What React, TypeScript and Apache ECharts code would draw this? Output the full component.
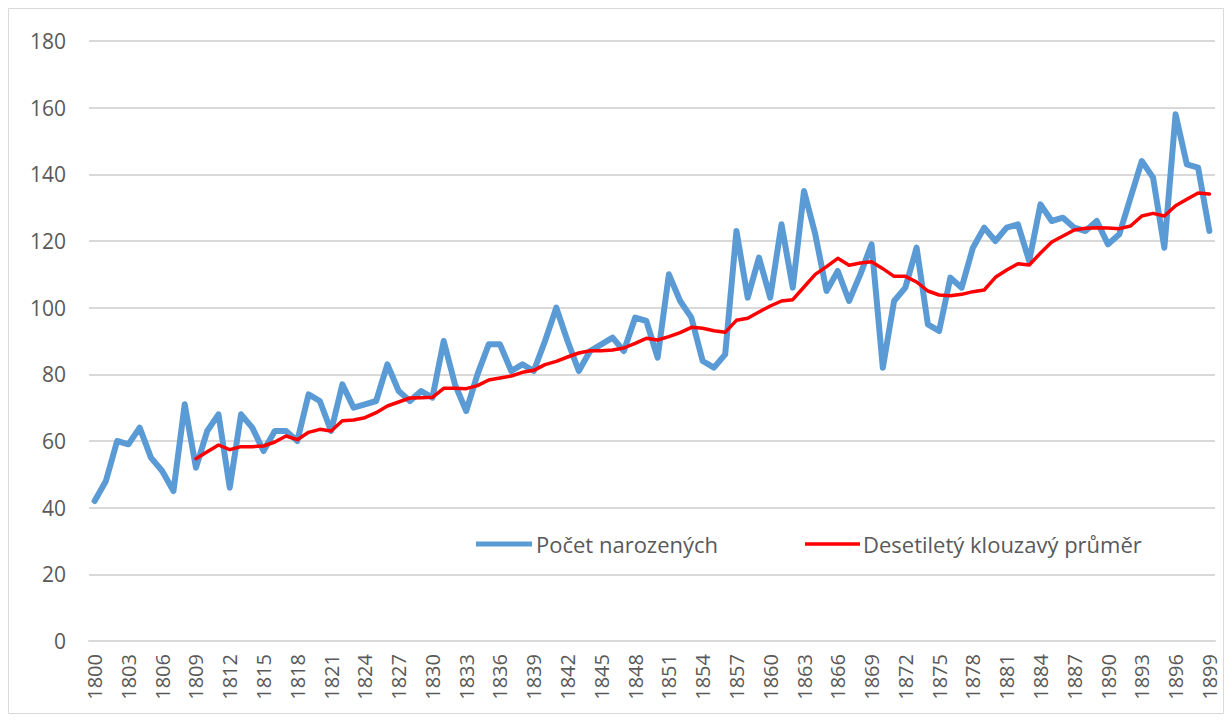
import React, { useEffect, useRef } from "react";
import * as echarts from "echarts";

const years: string[] = [];
for (let y = 1800; y <= 1899; y++) years.push(String(y));

const births: number[] = [
  42, 48, 60, 59, 64, 55, 51, 45, 71, 52,
  63, 68, 46, 68, 64, 57, 63, 63, 60, 74,
  72, 63, 77, 70, 71, 72, 83, 75, 72, 75,
  73, 90, 77, 69, 80, 89, 89, 81, 83, 81,
  90, 100, 90, 81, 87, 89, 91, 87, 97, 96,
  85, 110, 102, 97, 84, 82, 86, 123, 103, 115,
  103, 125, 106, 135, 122, 105, 111, 102, 110, 119,
  82, 102, 106, 118, 95, 93, 109, 106, 118, 124,
  120, 124, 125, 114, 131, 126, 127, 124, 123, 126,
  119, 122, 133, 144, 139, 118, 158, 143, 142, 123,
];

const movingAvg: (number | null)[] = [
  null, null, null, null, null, null, null, null, null, 54.7,
  56.8, 58.8, 57.4, 58.3, 58.3, 58.5, 59.7, 61.5, 60.4, 62.6,
  63.5, 63.0, 66.1, 66.3, 67.0, 68.5, 70.5, 71.7, 72.9, 73.0,
  73.1, 75.8, 75.8, 75.7, 76.6, 78.3, 78.9, 79.5, 80.6, 81.2,
  82.9, 83.9, 85.2, 86.4, 87.1, 87.1, 87.3, 87.9, 89.3, 90.8,
  90.3, 91.3, 92.5, 94.1, 93.8, 93.1, 92.6, 96.2, 96.8, 98.7,
  100.5, 102.0, 102.4, 106.2, 110.0, 112.3, 114.8, 112.7, 113.4, 113.8,
  111.7, 109.4, 109.4, 107.7, 105.0, 103.8, 103.6, 104.0, 104.8, 105.3,
  109.1, 111.3, 113.2, 112.8, 116.4, 119.7, 121.5, 123.3, 123.8, 124.0,
  123.9, 123.7, 124.5, 127.5, 128.3, 127.5, 130.6, 132.5, 134.4, 134.1,
];

const seriesNames = ["Počet narozených", "Desetiletý klouzavý průměr"];

const FONT = "Open Sans";
const TEXT_COLOR = "#595959";

export default function App() {
  const ref = useRef<HTMLDivElement>(null);
  useEffect(() => {
    if (!ref.current) return;
    const chart = echarts.init(ref.current, null, { renderer: "svg" });
    chart.setOption({
      animation: false,
      backgroundColor: "#ffffff",
      textStyle: { fontFamily: FONT },
      graphic: [
        {
          type: "rect",
          shape: { x: 8.5, y: 8.5, width: 1215, height: 705 },
          style: { fill: "none", stroke: "#d9d9d9", lineWidth: 1 },
          silent: true,
        },
      ],
      grid: { left: 89, right: 17, top: 41, bottom: 81, containLabel: false },
      legend: [
        {
          data: [{ name: seriesNames[0], icon: "rect" }],
          left: 476,
          top: 533,
          padding: 0,
          itemWidth: 56,
          itemHeight: 5,
          itemGap: 6,
          textStyle: { fontFamily: FONT, fontSize: 22, color: TEXT_COLOR, padding: [0, 0, 0, -1] },
        },
        {
          data: [{ name: seriesNames[1], icon: "rect" }],
          left: 805,
          top: 533,
          padding: 0,
          itemWidth: 55,
          itemHeight: 3.5,
          itemGap: 6,
          textStyle: { fontFamily: FONT, fontSize: 22, color: TEXT_COLOR, padding: [0, 0, 0, -2] },
        },
      ],
      xAxis: {
        type: "category",
        data: years,
        boundaryGap: true,
        axisLine: { show: true, lineStyle: { color: "#d9d9d9", width: 2 } },
        axisTick: { show: false },
        axisLabel: {
          interval: 2,
          rotate: 90,
          margin: 13,
          fontFamily: FONT,
          fontSize: 20,
          color: TEXT_COLOR,
        },
      },
      yAxis: {
        type: "value",
        min: 0,
        max: 180,
        interval: 20,
        axisLine: { show: false },
        axisTick: { show: false },
        splitLine: { lineStyle: { color: "#d9d9d9", width: 2 } },
        axisLabel: {
          margin: 23,
          fontFamily: FONT,
          fontSize: 21,
          color: TEXT_COLOR,
        },
      },
      series: [
        {
          name: seriesNames[0],
          type: "line",
          data: births,
          showSymbol: false,
          symbol: "none",
          lineStyle: { color: "#5B9BD5", width: 6, cap: "round", join: "round" },
          itemStyle: { color: "#5B9BD5" },
          z: 2,
        },
        {
          name: seriesNames[1],
          type: "line",
          data: movingAvg,
          showSymbol: false,
          symbol: "none",
          connectNulls: false,
          lineStyle: { color: "#FF0000", width: 3.5, cap: "round", join: "round" },
          itemStyle: { color: "#FF0000" },
          z: 3,
        },
      ],
    });
    return () => chart.dispose();
  }, []);
  return (
    <div
      ref={ref}
      style={{ position: "fixed", left: 0, top: 0, width: 1232, height: 722 }}
    />
  );
}
